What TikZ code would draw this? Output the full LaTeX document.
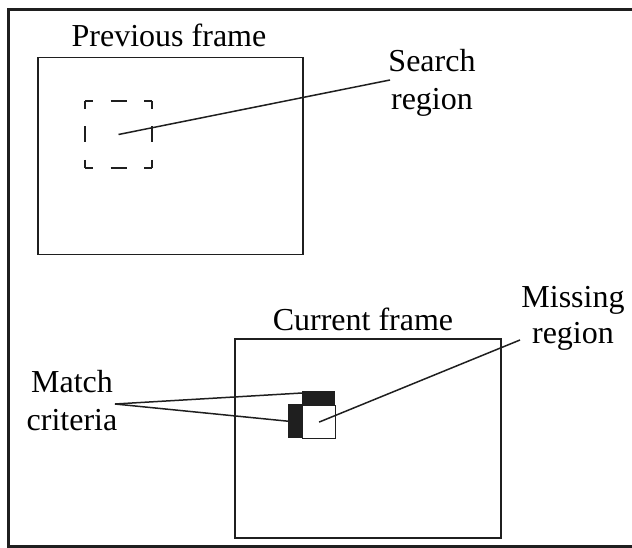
\documentclass[tikz,border=0pt]{standalone}
\usepackage{fontspec}
\setmainfont{Liberation Serif}
\begin{document}
\begin{tikzpicture}[x=1pt,y=-1pt,
  lbl/.style={font=\fontsize{32}{37}\selectfont, inner sep=0pt, anchor=base},
  framebox/.style={draw=black!88, line width=1.5pt, inner sep=0pt, anchor=north west},
  conn/.style={draw=black!88, line width=1.5pt},
  dashside/.style={draw=black!88, line width=1.5pt, dash pattern=on 16pt off 17.5pt, dash phase=8pt},
  blk/.style={fill=black!88, draw=none, inner sep=0pt, anchor=north west}]
\useasboundingbox (0,0) rectangle (632,548);
% outer frame
\draw[line width=3pt, black!88] (645,9.5) -- (8.5,9.5) -- (8.5,546.5) -- (645,546.5);
% previous frame
\node[framebox, minimum width=265pt, minimum height=197pt] (prev) at (37,57) {};
\node[lbl] (prevt) at (169,47) {Previous frame};
% dashed search region
\coordinate (d1) at (85,101);
\coordinate (d2) at (152,101);
\coordinate (d3) at (152,168);
\coordinate (d4) at (85,168);
\draw[dashside] (d1) -- (d2);
\draw[dashside] (d2) -- (d3);
\draw[dashside] (d4) -- (d3);
\draw[dashside] (d1) -- (d4);
\coordinate (sc) at (118.5,134.5);
\node[lbl] (search1) at (432,72) {Search};
\node[lbl] (search2) at (432,110) {region};
\coordinate (se) at (390,80);
\draw[conn] (sc) -- (se);
% current frame
\node[framebox, minimum width=266pt, minimum height=199pt] (cur) at (234,338) {};
\node[lbl] (curt) at (363,330) {Current frame};
% blocks
\node[blk, minimum width=33pt, minimum height=14pt] (topbar) at (302,391) {};
\node[blk, minimum width=14pt, minimum height=34pt] (leftbar) at (288,404) {};
\node[framebox, line width=1.2pt, minimum width=33pt, minimum height=33pt] (miss) at (302,405) {};
% labels
\node[lbl] (miss1) at (573,307) {Missing};
\node[lbl] (miss2) at (573,343) {region};
\coordinate (me) at (520,340);
\draw[conn] (miss.center) -- (me);
\node[lbl] (match1) at (72,392) {Match};
\node[lbl] (match2) at (72,430) {criteria};
\coordinate (mc) at (115,404);
\coordinate (mt) at (302,393);
\draw[conn] (mc) -- (mt);
\draw[conn] (mc) -- (leftbar.west);
\end{tikzpicture}
\end{document}
